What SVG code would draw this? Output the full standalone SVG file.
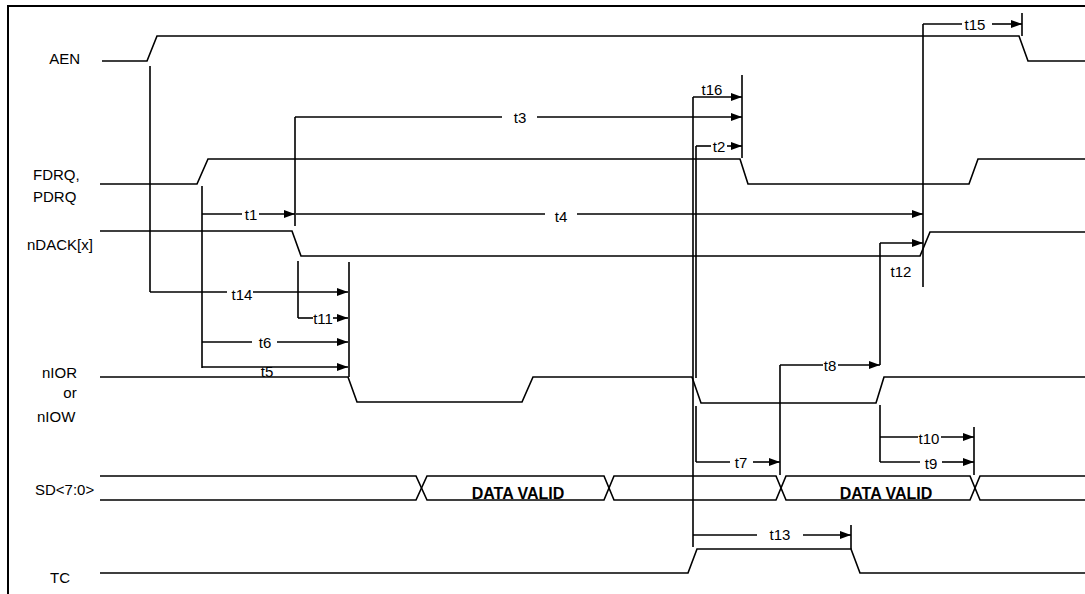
<svg xmlns="http://www.w3.org/2000/svg" width="1085" height="594" viewBox="0 0 1085 594">
<style>
.w{fill:none;stroke:#000;stroke-width:1.6;stroke-linejoin:miter}
.c{fill:none;stroke:#000;stroke-width:1.6}
.n{font-family:"Liberation Sans",Arial,sans-serif;font-size:15px;fill:#000}
.t{font-family:"Liberation Sans",Arial,sans-serif;font-size:15px;fill:#000;text-anchor:middle}
.d{font-family:"Liberation Sans",Arial,sans-serif;font-size:16px;font-weight:bold;fill:#000;text-anchor:middle}
</style>
<defs>
<marker id="ah" markerUnits="userSpaceOnUse" markerWidth="11" markerHeight="8" refX="11" refY="4" orient="auto">
<path d="M0,0 L11,4 L0,8 z" fill="#000"/>
</marker>
</defs>
<rect width="1085" height="594" fill="#fff"/>
<path d="M8,594 V6 H1085" fill="none" stroke="#000" stroke-width="2"/>

<g id="sig-aen">
<text class="n" x="80" y="64" text-anchor="end">AEN</text>
<path class="w" d="M102,61 H147 L157,36 H1019 L1028,61 H1085"/>
</g>
<g id="sig-fdrq">
<text class="n" x="33" y="180">FDRQ,</text>
<text class="n" x="33" y="202">PDRQ</text>
<path class="w" d="M100,184 H197 L208,159 H740 L748,184 H969 L978,159 H1085"/>
</g>
<g id="sig-ndack">
<text class="n" x="27" y="250">nDACK[x]</text>
<path class="w" d="M100,231 H292 L301,256 H920 L930,232 H1085"/>
</g>
<g id="sig-nior">
<text class="n" x="42" y="378">nIOR</text>
<text class="n" x="70" y="398" text-anchor="middle">or</text>
<text class="n" x="37" y="422">nIOW</text>
<path class="w" d="M100,377 H348 L357,402 H522 L533,377 H692 L701,403 H876 L884,377 H1085"/>
</g>
<g id="sig-sd">
<text class="n" x="35" y="495">SD&lt;7:0&gt;</text>
<path class="w" d="M100,476 H416 L427,500 H604 L614,476 H776 L786,500 H970 L980,476 H1085"/>
<path class="w" d="M100,500 H416 L427,476 H604 L614,500 H776 L786,476 H970 L980,500 H1085"/>
<text class="d" x="518" y="499">DATA VALID</text>
<text class="d" x="886" y="499">DATA VALID</text>
</g>
<g id="sig-tc">
<text class="n" x="50" y="583">TC</text>
<path class="w" d="M100,573 H688 L697,549 H851 L860,573 H1085"/>
</g>

<g id="connectors">
<!-- extension and tick lines -->
<path class="c" d="M150,66 V292 M202,186 V368 M295,117 V226 M298,261 V318 M349,262 V377 M742,75 V158 M693,97 V547 M696,146 V378 M696,406 V462 M923,24 V287 M1022,13 V36 M880,243 V365 M780,365 V475 M880,405 V462 M974,427 V475 M851,525 V549"/>
<!-- t14 -->
<path class="c" d="M150,292 H227"/>
<path class="c" d="M253,292 H348" marker-end="url(#ah)"/>
<!-- t1 -->
<path class="c" d="M202,214 H242"/>
<path class="c" d="M259,214 H295" marker-end="url(#ah)"/>
<!-- t11 -->
<path class="c" d="M298,318 H313"/>
<path class="c" d="M333,318 H348" marker-end="url(#ah)"/>
<!-- t6 -->
<path class="c" d="M202,342 H252"/>
<path class="c" d="M277,342 H348" marker-end="url(#ah)"/>
<!-- t5 -->
<path class="c" d="M202,367 H348" marker-end="url(#ah)"/>
<!-- t3 -->
<path class="c" d="M295,117 H502"/>
<path class="c" d="M537,117 H742" marker-end="url(#ah)"/>
<!-- t4 -->
<path class="c" d="M296,214 H545"/>
<path class="c" d="M577,214 H923" marker-end="url(#ah)"/>
<!-- t16 -->
<path class="c" d="M693,97 H742" marker-end="url(#ah)"/>
<!-- t2 -->
<path class="c" d="M696,146 H711"/>
<path class="c" d="M727,146 H742" marker-end="url(#ah)"/>
<!-- t15 -->
<path class="c" d="M923,24 H962"/>
<path class="c" d="M992,24 H1022" marker-end="url(#ah)"/>
<!-- t12 -->
<path class="c" d="M880,243 H923" marker-end="url(#ah)"/>
<!-- t8 -->
<path class="c" d="M780,365 H823"/>
<path class="c" d="M838,365 H880" marker-end="url(#ah)"/>
<!-- t10 -->
<path class="c" d="M880,437 H918"/>
<path class="c" d="M941,437 H974" marker-end="url(#ah)"/>
<!-- t9 -->
<path class="c" d="M880,462 H920"/>
<path class="c" d="M942,462 H974" marker-end="url(#ah)"/>
<!-- t7 -->
<path class="c" d="M696,462 H730"/>
<path class="c" d="M753,462 H780" marker-end="url(#ah)"/>
<!-- t13 -->
<path class="c" d="M693,535 H757"/>
<path class="c" d="M803,535 H851" marker-end="url(#ah)"/>

<text class="t" x="242" y="300">t14</text>
<text class="t" x="251" y="220">t1</text>
<text class="t" x="323" y="324">t11</text>
<text class="t" x="265" y="348">t6</text>
<text class="t" x="267" y="377">t5</text>
<text class="t" x="520" y="123">t3</text>
<text class="t" x="561" y="222">t4</text>
<text class="t" x="712" y="95">t16</text>
<text class="t" x="719" y="152">t2</text>
<text class="t" x="975" y="30">t15</text>
<text class="t" x="901" y="277">t12</text>
<text class="t" x="830" y="371">t8</text>
<text class="t" x="929" y="444">t10</text>
<text class="t" x="931" y="469">t9</text>
<text class="t" x="741" y="468">t7</text>
<text class="t" x="780" y="540">t13</text>
</g>
</svg>
